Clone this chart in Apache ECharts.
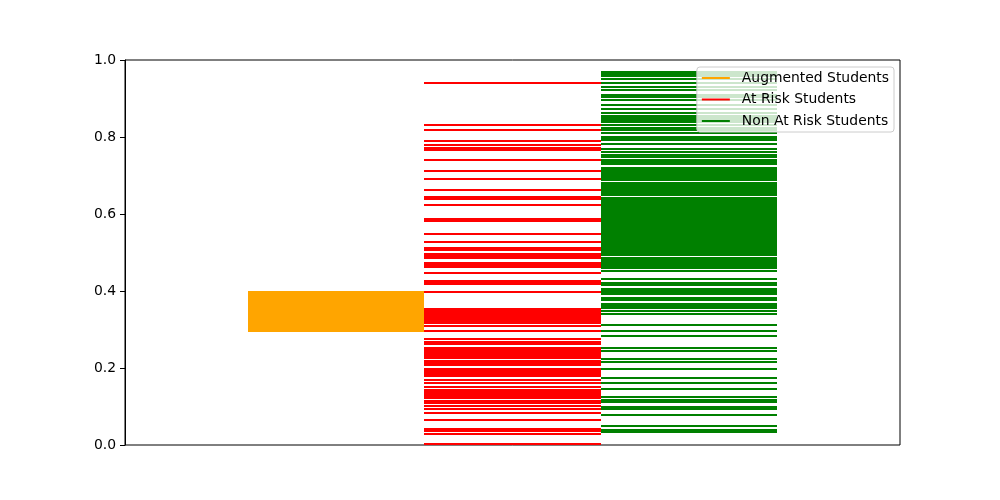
<!DOCTYPE html>
<html>
<head>
<meta charset="utf-8">
<script src="https://cdn.jsdelivr.net/npm/echarts@6/dist/echarts.min.js"></script>
<style>html,body{margin:0;padding:0;background:#fff}#c{width:1000px;height:500px}</style>
</head>
<body>
<div id="c"></div>
<script>
const seriesNames = ['Augmented Students', 'At Risk Students', 'Non At Risk Students'];
const seriesColors = ['#ffa500', '#ff0000', '#008000'];
const yTicks = [0, 0.2, 0.4, 0.6, 0.8, 1.0];

const augmentedValues = [0.397, 0.394, 0.390, 0.385, 0.382, 0.378, 0.373, 0.370, 0.366, 0.361,
  0.358, 0.354, 0.349, 0.346, 0.342, 0.338, 0.334, 0.330, 0.326, 0.322, 0.318, 0.313, 0.310,
  0.306, 0.302, 0.298, 0.295];

const atRiskValues = [0.940, 0.831, 0.818, 0.790, 0.779, 0.771, 0.766, 0.740, 0.712, 0.690,
  0.663, 0.645, 0.639, 0.623, 0.586, 0.582, 0.548, 0.527, 0.511, 0.506, 0.497, 0.491, 0.486,
  0.474, 0.468, 0.463, 0.447, 0.427, 0.422, 0.417, 0.397, 0.354, 0.349, 0.342, 0.337, 0.332,
  0.327, 0.322, 0.317, 0.309, 0.296, 0.275, 0.267, 0.262, 0.251, 0.246, 0.241, 0.237, 0.230,
  0.225, 0.218, 0.213, 0.208, 0.197, 0.192, 0.187, 0.182, 0.178, 0.169, 0.161, 0.151, 0.143,
  0.138, 0.133, 0.128, 0.123, 0.114, 0.108, 0.101, 0.094, 0.083, 0.065, 0.041, 0.037, 0.029,
  0.003];

const nonAtRiskValues = [0.969, 0.964, 0.959, 0.950, 0.940, 0.930, 0.922, 0.909, 0.904, 0.897,
  0.883, 0.873, 0.862, 0.855, 0.850, 0.845, 0.838, 0.832, 0.823, 0.817, 0.810, 0.801, 0.796,
  0.791, 0.781, 0.769, 0.760, 0.754, 0.748, 0.739, 0.734, 0.729, 0.719, 0.714, 0.709, 0.704,
  0.699, 0.694, 0.689, 0.680, 0.675, 0.670, 0.665, 0.660, 0.655, 0.650,
  0.642, 0.637, 0.632, 0.627, 0.622, 0.617, 0.612, 0.607, 0.602, 0.597, 0.592, 0.587, 0.582,
  0.577, 0.572, 0.567, 0.562, 0.557, 0.552, 0.547, 0.542, 0.537, 0.532, 0.527, 0.522, 0.517,
  0.512, 0.507, 0.502, 0.498, 0.494,
  0.485, 0.480, 0.475, 0.470, 0.465, 0.460, 0.452, 0.431, 0.421, 0.415, 0.406, 0.401, 0.396,
  0.392, 0.382, 0.376, 0.367, 0.362, 0.357, 0.348, 0.339, 0.312, 0.297, 0.283, 0.252, 0.244,
  0.224, 0.216, 0.197, 0.174, 0.161, 0.145, 0.125, 0.118, 0.112, 0.099, 0.093, 0.078, 0.049,
  0.040, 0.035];

const groups = [augmentedValues, atRiskValues, nonAtRiskValues];
const FONT = 'DejaVu Sans';

function makeSeries(idx) {
  return {
    name: seriesNames[idx],
    type: 'custom',
    coordinateSystem: 'cartesian2d',
    clip: true,
    itemStyle: { color: seriesColors[idx] },
    encode: { x: 0, y: 1 },
    data: groups[idx].map(v => [idx, v]),
    renderItem: function (params, api) {
      const b = api.value(0), v = api.value(1);
      const p1 = api.coord([b, v]);
      const p2 = api.coord([b + 1, v]);
      const y = Math.round(p1[1]);
      return {
        type: 'line',
        shape: { x1: Math.round(p1[0]), y1: y, x2: Math.round(p2[0]), y2: y },
        style: { stroke: seriesColors[idx], lineWidth: 2, lineCap: 'butt' }
      };
    }
  };
}

const chart = echarts.init(document.getElementById('c'), null, { renderer: 'canvas' });
chart.setOption({
  animation: false,
  backgroundColor: '#fff',
  grid: { left: 125, right: 100, top: 60, bottom: 55, show: true, borderColor: '#000', borderWidth: 1, backgroundColor: 'transparent' },
  xAxis: {
    type: 'value', min: -0.7, max: 3.7,
    axisLine: { show: false, onZero: false }, axisTick: { show: false }, axisLabel: { show: false }, splitLine: { show: false }
  },
  yAxis: {
    type: 'value', min: yTicks[0], max: yTicks[yTicks.length - 1], interval: 0.2,
    axisLine: { show: true, onZero: false, lineStyle: { color: '#000', width: 1 } },
    axisTick: { show: true, inside: false, length: 5, lineStyle: { color: '#000', width: 1 } },
    axisLabel: { color: '#000', fontFamily: FONT, fontSize: 13.9, margin: 9, formatter: v => v.toFixed(1) },
    splitLine: { show: false }
  },
  legend: {
    orient: 'vertical',
    right: 106, top: 67,
    padding: [3, 5, 3, 5],
    itemWidth: 28, itemHeight: 2, itemGap: 5.5,
    backgroundColor: 'rgba(255,255,255,0.8)',
    borderColor: '#cccccc', borderWidth: 1, borderRadius: 3,
    textStyle: { color: '#000', fontFamily: FONT, fontSize: 13.9, lineHeight: 16, padding: [0, 0, 0, 7] },
    data: seriesNames.map((n, i) => ({ name: n, icon: 'rect', itemStyle: { color: seriesColors[i] } }))
  },
  series: [makeSeries(0), makeSeries(1), makeSeries(2)]
});
</script>
</body>
</html>
